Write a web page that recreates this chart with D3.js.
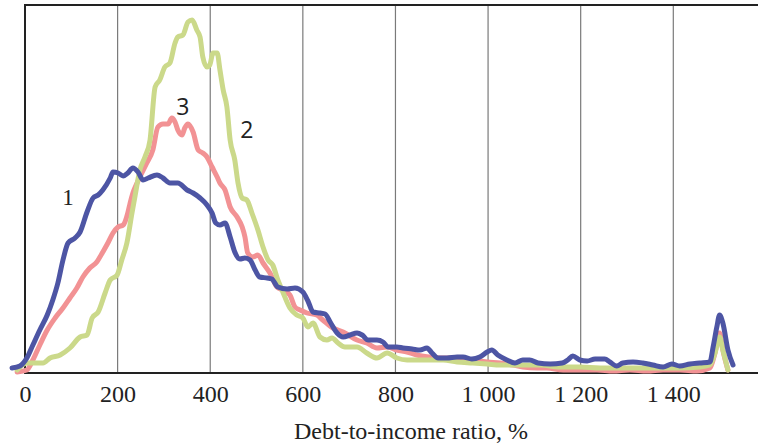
<!DOCTYPE html>
<html>
<head>
<meta charset="utf-8">
<script src="https://cdn.jsdelivr.net/npm/d3@7"></script>
<style>
  html, body { margin: 0; padding: 0; background: #fff; }
  svg { display: block; }
</style>
</head>
<body>
<div id="chart"></div>
<script>
(function () {
  "use strict";

  // Debt-to-income ratio, % (x) vs. share of borrowers (unitless)
  const series1 = [
    [-28, 0.5], [-11, 0.7], [4, 1.5], [17, 2.8], [32, 4.3], [48, 5.8], [60, 7.3], [71, 9.0],
    [82, 11.3], [93, 13.0], [108, 13.5], [119, 14.1], [134, 16.1], [147, 17.5], [158, 17.8],
    [168, 18.3], [184, 19.5], [190, 20.1], [201, 20.0], [212, 19.7], [222, 20.0], [233, 20.5],
    [244, 20.1], [255, 19.3], [266, 19.5], [285, 19.8], [298, 19.5], [313, 19.0], [330, 19.0],
    [350, 18.3], [363, 18.0], [378, 17.5], [393, 16.8], [404, 16.0], [412, 15.0], [421, 14.8],
    [432, 15.0], [443, 13.6], [453, 12.1], [464, 11.4], [475, 11.5], [486, 11.3], [497, 10.3],
    [507, 9.6], [523, 9.5], [533, 9.4], [546, 8.6], [566, 8.4], [583, 8.5], [600, 8.1],
    [611, 7.2], [622, 6.1], [637, 6.0], [648, 5.9], [659, 5.1], [674, 4.0], [687, 3.6],
    [702, 3.8], [717, 4.0], [728, 3.8], [741, 3.3], [760, 3.3], [773, 3.1], [784, 2.6],
    [803, 2.6], [816, 2.5], [836, 2.4], [853, 2.3], [868, 2.5], [879, 2.0], [892, 1.5],
    [911, 1.5], [933, 1.6], [946, 1.6], [965, 1.4], [982, 1.6], [998, 2.1], [1008, 2.3],
    [1021, 1.8], [1041, 1.3], [1058, 1.0], [1075, 1.3], [1090, 1.3], [1108, 1.0], [1134, 0.9],
    [1160, 1.0], [1172, 1.3], [1183, 1.7], [1198, 1.3], [1214, 1.2], [1231, 1.4], [1252, 1.4],
    [1263, 1.1], [1278, 0.7], [1291, 1.0], [1313, 1.1], [1334, 1.0], [1356, 0.8], [1378, 0.6],
    [1397, 0.9], [1414, 0.7], [1436, 0.9], [1457, 1.0], [1479, 1.1], [1486, 2.6], [1494, 4.6],
    [1500, 5.8], [1507, 5.0], [1518, 2.3], [1529, 0.8]
  ];

  const series2 = [
    [-17, 0.3], [4, 1.0], [22, 1.0], [39, 1.0], [54, 1.5], [76, 1.8], [97, 2.5], [119, 3.6],
    [134, 3.8], [145, 5.5], [158, 6.1], [173, 8.0], [184, 9.3], [199, 9.8], [209, 11.3],
    [220, 13.0], [231, 16.0], [238, 17.8], [248, 20.3], [259, 21.6], [270, 23.3], [281, 28.6],
    [291, 29.3], [302, 30.6], [313, 31.0], [324, 33.0], [330, 33.6], [341, 33.8], [352, 35.1],
    [361, 35.3], [371, 34.3], [378, 33.6], [384, 31.6], [393, 30.6], [399, 30.8], [406, 32.0],
    [415, 32.0], [421, 30.3], [428, 28.3], [436, 26.6], [443, 23.3], [453, 21.3], [460, 19.0],
    [469, 17.5], [479, 17.3], [490, 16.0], [503, 14.3], [514, 12.6], [525, 11.3], [535, 10.8],
    [546, 9.3], [555, 8.3], [572, 6.5], [587, 5.8], [600, 5.5], [611, 4.6], [622, 5.0],
    [637, 3.6], [652, 3.3], [663, 3.5], [676, 3.0], [691, 2.6], [717, 2.6], [738, 2.0],
    [760, 1.5], [782, 2.0], [803, 1.5], [825, 1.3], [846, 1.3], [874, 1.3], [903, 1.3],
    [933, 1.1], [967, 1.0], [998, 0.9], [1026, 0.8], [1069, 0.8], [1112, 0.8], [1155, 0.6],
    [1198, 0.6], [1242, 0.5], [1285, 0.5], [1328, 0.5], [1371, 0.5], [1414, 0.5], [1457, 0.6],
    [1479, 0.8], [1490, 2.0], [1500, 3.6], [1507, 2.3], [1518, 0.3]
  ];

  const series3 = [
    [-17, 0.1], [4, 0.3], [17, 1.3], [32, 2.8], [48, 4.3], [65, 5.5], [82, 6.5], [97, 7.5],
    [112, 8.5], [125, 9.6], [140, 10.5], [155, 11.1], [168, 12.1], [179, 13.0], [190, 14.0],
    [201, 14.6], [212, 14.8], [222, 16.0], [227, 17.0], [233, 18.0], [242, 19.0], [248, 19.6],
    [263, 21.0], [276, 22.3], [287, 24.6], [298, 24.9], [309, 24.9], [317, 25.5], [324, 25.1],
    [330, 24.3], [339, 23.8], [345, 24.5], [352, 24.9], [363, 24.1], [374, 22.3], [384, 22.0],
    [393, 21.6], [404, 20.6], [415, 19.6], [421, 19.0], [432, 18.3], [443, 16.6], [458, 15.6],
    [469, 14.6], [475, 13.6], [481, 12.0], [492, 11.6], [503, 11.8], [514, 11.0], [529, 10.0],
    [544, 8.6], [557, 8.3], [572, 7.8], [583, 6.6], [594, 6.3], [609, 6.0], [630, 5.8],
    [643, 5.3], [665, 4.5], [687, 4.1], [717, 3.3], [738, 3.0], [760, 2.5], [782, 2.6],
    [803, 2.3], [825, 2.1], [846, 1.8], [874, 1.6], [903, 1.5], [933, 1.5], [967, 1.3],
    [998, 1.1], [1026, 1.0], [1054, 0.8], [1075, 0.6], [1106, 0.5], [1127, 0.5], [1162, 0.3],
    [1198, 0.3], [1235, 0.3], [1270, 0.2], [1306, 0.3], [1343, 0.2], [1378, 0.3], [1414, 0.3],
    [1451, 0.2], [1479, 0.5], [1490, 2.0], [1500, 4.0], [1507, 2.3], [1518, 0.3]
  ];

  const xTicks = [0, 200, 400, 600, 800, 1000, 1200, 1400];
  const gridValues = [200, 400, 600, 800, 1000, 1200, 1400];
  const seriesLabels = [
    { name: "1", at: [93, 16.8], font: "'Liberation Serif', serif" },
    { name: "2", at: [479, 23.5], font: "'Open Sans', sans-serif" },
    { name: "3", at: [341, 25.8], font: "'Open Sans', sans-serif" }
  ];

  const W = 760, H = 443;
  const FRAME = { left: 25, top: 5, right: 758, bottom: 373 };

  const svg = d3.select("#chart").append("svg")
    .attr("width", W).attr("height", H)
    .attr("viewBox", `0 0 ${W} ${H}`);

  const x = d3.scaleLinear().domain([0, 1400]).range([FRAME.left, 673.3]);
  const y = d3.scaleLinear().domain([0, 36.8]).range([FRAME.bottom, FRAME.top]);

  // vertical grid
  svg.append("g").attr("class", "grid")
    .selectAll("line")
    .data(gridValues)
    .enter().append("line")
    .attr("x1", d => x(d)).attr("x2", d => x(d))
    .attr("y1", FRAME.top).attr("y2", FRAME.bottom)
    .attr("stroke", "#7a7a7a").attr("stroke-width", 1.2);

  // frame: left, top, bottom
  svg.append("path")
    .attr("d", `M${FRAME.right},${FRAME.top}H${FRAME.left}V${FRAME.bottom}H${FRAME.right}`)
    .attr("fill", "none").attr("stroke", "#222").attr("stroke-width", 2);

  const line = d3.line()
    .x(d => x(d[0]))
    .y(d => y(d[1]))
    .curve(d3.curveMonotoneX);

  const lines = [
    { data: series3, color: "#f29294" },
    { data: series2, color: "#cbd98a" },
    { data: series1, color: "#4d55a4" }
  ];

  svg.append("g").attr("class", "lines")
    .selectAll("path")
    .data(lines)
    .enter().append("path")
    .attr("d", d => line(d.data))
    .attr("fill", "none")
    .attr("stroke", d => d.color)
    .attr("stroke-width", 5)
    .attr("stroke-linejoin", "round")
    .attr("stroke-linecap", "round");

  // x axis labels
  const fmt = d3.formatLocale({ decimal: ",", thousands: "\u00a0", grouping: [3], currency: ["", ""] }).format(",d");
  const axis = d3.axisBottom(x).tickValues(xTicks).tickFormat(fmt).tickSize(0).tickPadding(0);
  const axisG = svg.append("g")
    .attr("transform", `translate(0,${FRAME.bottom})`)
    .call(axis);
  axisG.select(".domain").remove();
  axisG.selectAll("text")
    .attr("dy", null)
    .attr("y", 29)
    .attr("font-family", "'Liberation Serif', serif")
    .attr("font-size", 24)
    .attr("fill", "#222");

  svg.append("text")
    .attr("x", 411).attr("y", 439)
    .attr("text-anchor", "middle")
    .attr("font-family", "'Liberation Serif', serif")
    .attr("font-size", 24)
    .attr("fill", "#222")
    .text("Debt-to-income ratio, %");

  // series labels
  svg.append("g").selectAll("text")
    .data(seriesLabels)
    .enter().append("text")
    .attr("x", d => x(d.at[0]))
    .attr("y", d => y(d.at[1]))
    .attr("text-anchor", "middle")
    .attr("font-family", d => d.font)
    .attr("font-size", 23)
    .attr("fill", "#222")
    .text(d => d.name);
})();
</script>
</body>
</html>
